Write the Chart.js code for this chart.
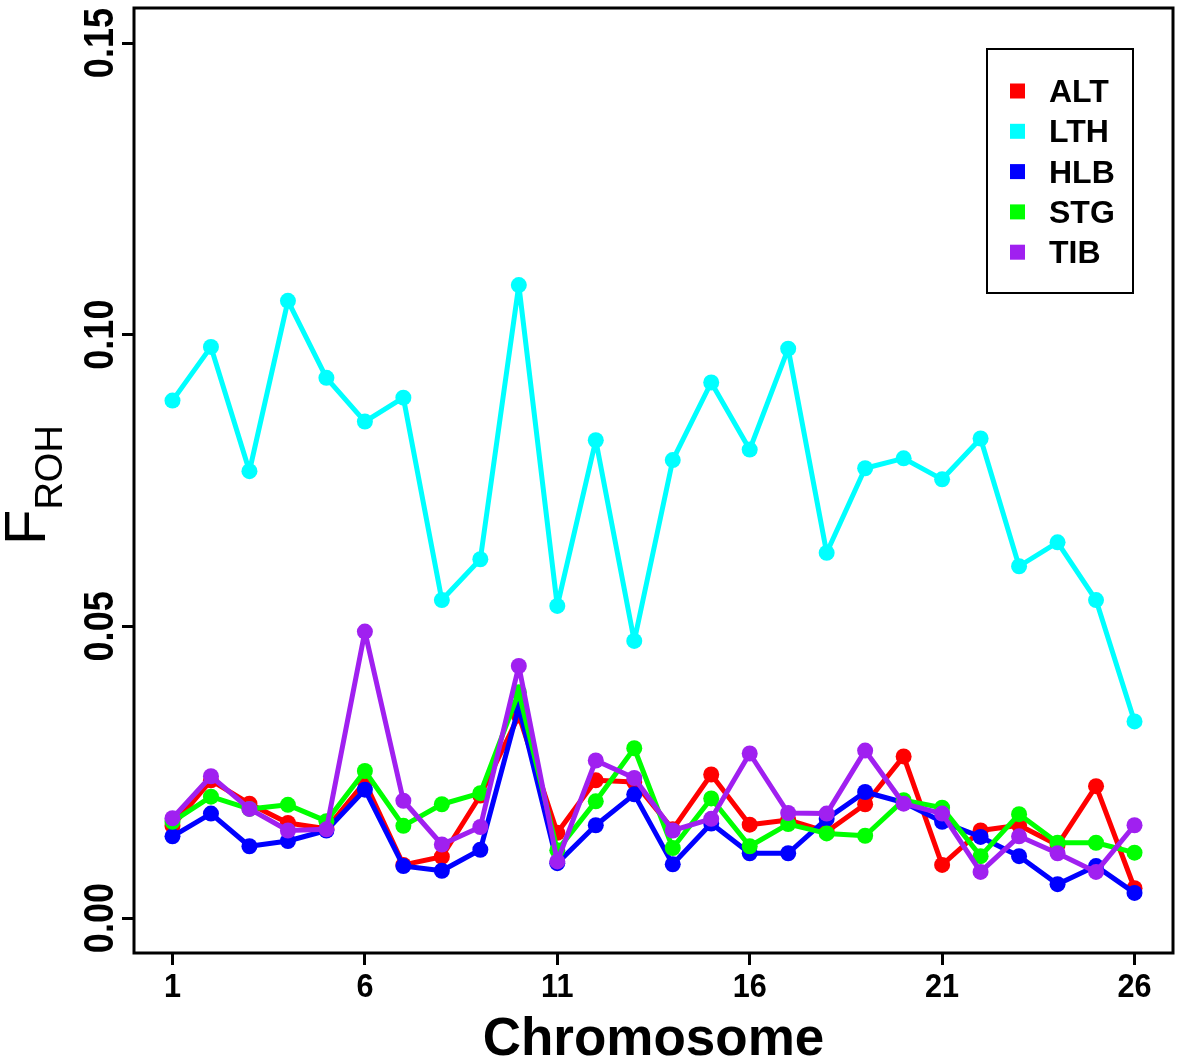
<!DOCTYPE html>
<html>
<head>
<meta charset="utf-8">
<title>FROH by chromosome</title>
<script src="https://cdn.jsdelivr.net/npm/chart.js@4.4.1/dist/chart.umd.min.js"></script>
<style>
  html, body { margin: 0; padding: 0; background: #fff; }
  #wrap { width: 1181px; height: 1061px; }
</style>
</head>
<body>
<div id="wrap"><canvas id="froh" width="1181" height="1061"></canvas></div>
<script>
// ==================================
// Data
// ==================================
const chromosomes = [1, 2, 3, 4, 5, 6, 7, 8, 9, 10, 11, 12, 13, 14, 15, 16, 17, 18, 19, 20, 21, 22, 23, 24, 25, 26];
const xTicks = [1, 6, 11, 16, 21, 26];
const yTicks = [0, 0.05, 0.1, 0.15];
const yTickLabels = ["0.00", "0.05", "0.10", "0.15"];

const breeds = ["ALT", "LTH", "HLB", "STG", "TIB"];
const breedColors = ["#FF0000", "#00FFFF", "#0000FF", "#00FF00", "#A020F0"];

const altFroh = [0.0158, 0.0236, 0.0196, 0.0163, 0.0153, 0.0233, 0.0091, 0.0105, 0.0210, 0.0347, 0.0146, 0.0236, 0.0233,
  0.0152, 0.0246, 0.0160, 0.0168, 0.0148, 0.0195, 0.0277, 0.0091, 0.0150, 0.0159, 0.0125, 0.0226, 0.0051];
const lthFroh = [0.0887, 0.0979, 0.0766, 0.1058, 0.0926, 0.0851, 0.0892, 0.0545, 0.0615, 0.1085, 0.0535, 0.0819, 0.0475,
  0.0785, 0.0918, 0.0803, 0.0976, 0.0626, 0.0771, 0.0788, 0.0752, 0.0822, 0.0603, 0.0644, 0.0545, 0.0337];
const hlbFroh = [0.0140, 0.0179, 0.0123, 0.0132, 0.0150, 0.0220, 0.0089, 0.0081, 0.0117, 0.0362, 0.0094, 0.0159, 0.0212,
  0.0092, 0.0162, 0.0111, 0.0111, 0.0170, 0.0216, 0.0198, 0.0165, 0.0139, 0.0106, 0.0058, 0.0089, 0.0043];
const stgFroh = [0.0165, 0.0208, 0.0187, 0.0194, 0.0166, 0.0252, 0.0158, 0.0195, 0.0214, 0.0387, 0.0116, 0.0200, 0.0291,
  0.0120, 0.0205, 0.0123, 0.0161, 0.0145, 0.0141, 0.0202, 0.0189, 0.0106, 0.0178, 0.0129, 0.0129, 0.0112];
const tibFroh = [0.0171, 0.0243, 0.0187, 0.0150, 0.0152, 0.0491, 0.0201, 0.0126, 0.0156, 0.0432, 0.0097, 0.0270, 0.0240,
  0.0150, 0.0170, 0.0282, 0.0180, 0.0179, 0.0287, 0.0196, 0.0179, 0.0079, 0.0140, 0.0111, 0.0079, 0.0159];

const series = [altFroh, lthFroh, hlbFroh, stgFroh, tibFroh];
const FONT = '"Liberation Sans", Arial, Helvetica, sans-serif';

// ==================================
// Frame, tick labels, titles, legend
// ==================================
const frameAndText = {
  id: "frameAndText",
  afterDraw(chart) {
    const { ctx, chartArea, scales } = chart;
    const { left, top, right, bottom } = chartArea;
    ctx.save();

    ctx.strokeStyle = "#000";
    ctx.lineWidth = 3;
    ctx.strokeRect(left, top, right - left, bottom - top);

    ctx.fillStyle = "#000";
    ctx.textAlign = "center";
    ctx.textBaseline = "alphabetic";

    // x tick labels, slightly narrow like the original
    ctx.font = `bold 34px ${FONT}`;
    xTicks.forEach((v) => {
      ctx.save();
      ctx.translate(scales.x.getPixelForValue(v), 997);
      ctx.scale(0.9, 1);
      ctx.fillText(String(v), 0, 0);
      ctx.restore();
    });

    // y labels read bottom-to-top like R's default
    ctx.font = `bold 42px ${FONT}`;
    yTicks.forEach((v, i) => {
      ctx.save();
      ctx.translate(113, scales.y.getPixelForValue(v));
      ctx.rotate(-Math.PI / 2);
      ctx.scale(0.86, 1);
      ctx.fillText(yTickLabels[i], 0, 0);
      ctx.restore();
    });

    ctx.font = `bold 53px ${FONT}`;
    ctx.fillText("Chromosome", (left + right) / 2, 1055);

    // F with ROH subscript
    ctx.save();
    ctx.translate(45, 545);
    ctx.rotate(-Math.PI / 2);
    ctx.textAlign = "left";
    ctx.font = `58px ${FONT}`;
    ctx.fillText("F", 0, 0);
    const fw = ctx.measureText("F").width;
    ctx.font = `38px ${FONT}`;
    ctx.fillText("ROH", fw, 17);
    ctx.restore();

    // legend box, top right
    const lx = right - 186;
    const ly = top + 41;
    ctx.lineWidth = 2;
    ctx.strokeRect(lx, ly, 146, 244);
    ctx.textAlign = "left";
    ctx.font = `bold 32px ${FONT}`;
    breeds.forEach((b, i) => {
      const cy = ly + 42 + i * 40.3;
      ctx.fillStyle = breedColors[i];
      ctx.fillRect(lx + 23, cy - 7.5, 15, 15);
      ctx.fillStyle = "#000";
      ctx.fillText(b, lx + 62, cy + 11);
    });

    ctx.restore();
  },
};

// ==================================
// Chart
// ==================================
const tickGrid = {
  display: true,
  drawOnChartArea: false,
  drawTicks: true,
  tickLength: 12,
  color: "#000",
  lineWidth: 3,
};

new Chart(document.getElementById("froh"), {
  type: "line",
  data: {
    datasets: breeds.map((name, i) => ({
      label: name,
      data: chromosomes.map((c, k) => ({ x: c, y: series[i][k] })),
      borderColor: breedColors[i],
      backgroundColor: breedColors[i],
      pointBackgroundColor: breedColors[i],
      borderWidth: 5,
      borderJoinStyle: "round",
      borderCapStyle: "round",
      pointRadius: 8,
      pointBorderWidth: 0,
      tension: 0,
      order: breeds.length - i, // later breeds drawn on top
    })),
  },
  options: {
    responsive: false,
    animation: false,
    devicePixelRatio: 1,
    layout: { padding: { top: 3, right: 5, left: 0, bottom: 0 } },
    plugins: {
      legend: { display: false },
      tooltip: { enabled: false },
    },
    scales: {
      x: {
        type: "linear",
        min: 0,
        max: 27,
        grid: tickGrid,
        border: { display: false },
        ticks: { display: false },
        afterBuildTicks: (s) => { s.ticks = xTicks.map((v) => ({ value: v })); },
        afterFit: (s) => { s.height = 108; },
      },
      y: {
        type: "linear",
        min: -0.006,
        max: 0.156,
        grid: tickGrid,
        border: { display: false },
        ticks: { display: false },
        afterBuildTicks: (s) => { s.ticks = yTicks.map((v) => ({ value: v })); },
        afterFit: (s) => { s.width = 134; },
      },
    },
  },
  plugins: [frameAndText],
});
</script>
</body>
</html>
